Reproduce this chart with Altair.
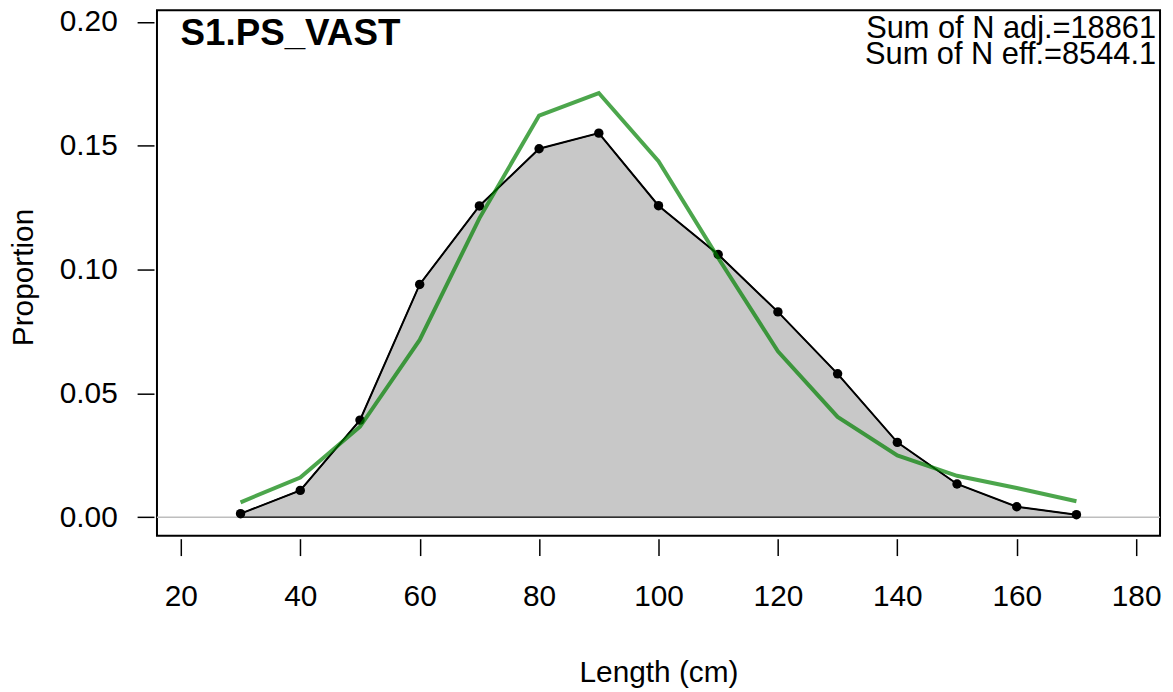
import altair as alt
import pandas as pd

lengths = [30, 40, 50, 60, 70, 80, 90, 100, 110, 120, 130, 140, 150, 160, 170]
observed = [0.0014, 0.0108, 0.0392, 0.0940, 0.1257, 0.1488, 0.1551, 0.1258,
            0.1061, 0.0829, 0.0579, 0.0302, 0.0134, 0.0042, 0.0010]
expected = [0.0060, 0.0160, 0.0365, 0.0716, 0.1207, 0.1622, 0.1713, 0.1438,
            0.1047, 0.0670, 0.0405, 0.0249, 0.0167, 0.0118, 0.0064]
x_ticks = [20, 40, 60, 80, 100, 120, 140, 160, 180]
y_ticks = [0.0, 0.05, 0.10, 0.15, 0.20]
panel_title = "S1.PS_VAST"
info_lines = ["Sum of N adj.=18861", "Sum of N eff.=8544.1"]

FONT = "Liberation Sans"

df = pd.DataFrame({"length": lengths, "obs": observed, "exp": expected})

xscale = alt.Scale(domain=[16, 184], nice=False, zero=False)
yscale = alt.Scale(domain=[-0.0075, 0.2047], nice=False, zero=False)

xaxis = alt.Axis(values=x_ticks, domain=False, grid=False, tickSize=17, tickColor="black",
                 tickWidth=1.5, offset=3, labelFontSize=30, labelFont=FONT, labelColor="black",
                 labelPadding=26, labelFlush=False, labelOverlap=False,
                 title="Length (cm)", titleFontSize=30, titleFont=FONT, titleFontWeight="normal",
                 titleColor="black", titleBaseline="alphabetic", titleY=144)
yaxis = alt.Axis(values=y_ticks, format=".2f", domain=False, grid=False, tickSize=17,
                 tickColor="black", tickWidth=1.5, offset=3, labelFontSize=30, labelFont=FONT,
                 labelColor="black", labelPadding=20, labelFlush=False, labelOverlap=False,
                 title="Proportion", titleFontSize=30, titleFont=FONT, titleFontWeight="normal",
                 titleColor="black", titleBaseline="alphabetic", titleX=-122, titleY=268.5,
                 titleAlign="center", titleAngle=270)

base = alt.Chart(df)

zero = alt.Chart(pd.DataFrame({"z": [0.0]})).mark_rule(color="#BEBEBE", strokeWidth=1.5).encode(
    y=alt.Y("z:Q", scale=yscale, axis=yaxis))

area = base.mark_area(fill="#C8C8C8", stroke="black", strokeWidth=1.2).encode(
    x=alt.X("length:Q", scale=xscale, axis=xaxis),
    y=alt.Y("obs:Q", scale=yscale, axis=yaxis))

obs_line = base.mark_line(color="black", strokeWidth=2).encode(
    x=alt.X("length:Q", scale=xscale), y=alt.Y("obs:Q", scale=yscale))

obs_pts = base.mark_circle(color="black", opacity=1, size=90).encode(
    x=alt.X("length:Q", scale=xscale), y=alt.Y("obs:Q", scale=yscale))

exp_line = base.mark_line(color="#008000", opacity=0.7, strokeWidth=4).encode(
    x=alt.X("length:Q", scale=xscale), y=alt.Y("exp:Q", scale=yscale))

title_txt = alt.Chart(pd.DataFrame({"t": [panel_title]})).mark_text(
    align="left", baseline="alphabetic", font=FONT, fontSize=37, fontWeight="bold",
    color="black").encode(x=alt.value(23.7), y=alt.value(35), text="t:N")

info1 = alt.Chart(pd.DataFrame({"t": [info_lines[0]]})).mark_text(
    align="right", baseline="alphabetic", font=FONT, fontSize=31, color="black").encode(
    x=alt.value(1006), y=alt.value(27.7), text="t:N")
info2 = alt.Chart(pd.DataFrame({"t": [info_lines[1]]})).mark_text(
    align="right", baseline="alphabetic", font=FONT, fontSize=31, color="black").encode(
    x=alt.value(1006), y=alt.value(53.7), text="t:N")

chart = alt.layer(zero, area, obs_line, obs_pts, exp_line, title_txt, info1, info2).properties(
    width=1010, height=529,
    autosize=alt.AutoSizeParams(type="none"),
    padding={"left": 150, "top": 0, "right": 5, "bottom": 155},
    view=alt.ViewBackground(stroke="black", strokeWidth=2, fill="white"),
).configure_view(stroke="black", strokeWidth=2).configure(background="white")

chart.save("out.html", embed_options={"renderer": "svg", "actions": False})
